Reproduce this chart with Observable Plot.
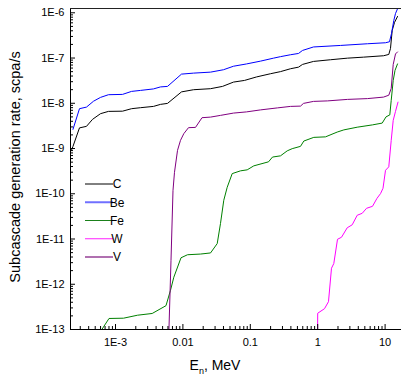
<!DOCTYPE html>
<html><head><meta charset="utf-8">
<script src="https://cdn.jsdelivr.net/npm/d3@7"></script>
<script src="https://cdn.jsdelivr.net/npm/@observablehq/plot@0.6"></script>
<style>
html,body{margin:0;padding:0;background:#fff;}
#chart{position:relative;width:401px;height:380px;overflow:hidden;}
</style></head><body><div id="chart"></div>
<script>
// ---- data (neutron energy in MeV, subcascade generation rate in scpa/s) ----
const energyC = [2.22e-4, 2.34e-4, 2.92e-4, 3.71e-4, 4.56e-4, 5.99e-4, 7.87e-4, 1.27e-3, 1.73e-3, 2.35e-3, 3.66e-3, 4.65e-3, 5.91e-3, 9.53e-3, 1.44e-2, 2.57e-2, 3.87e-2, 5.63e-2, 8.20e-2, 0.1236, 0.1994, 0.2806, 0.395, 0.519, 0.595, 0.866, 1.549, 2.77, 4.78, 9.47, 11.34, 12.02, 12.74, 13.79, 15.28];
const rateC = [9.11e-10, 1.117e-9, 2.86e-9, 3.09e-9, 4.41e-9, 5.89e-9, 6.62e-9, 6.69e-9, 7.59e-9, 7.99e-9, 8.53e-9, 9.45e-9, 9.94e-9, 1.784e-8, 1.995e-8, 2.10e-8, 2.36e-8, 2.94e-8, 3.20e-8, 3.82e-8, 4.50e-8, 5.01e-8, 5.80e-8, 6.29e-8, 7.22e-8, 8.41e-8, 9.17e-8, 9.94e-8, 1.046e-7, 1.123e-7, 1.20e-7, 1.63e-7, 4.07e-7, 6.11e-7, 8.29e-7];

const energyBe = [2.34e-4, 2.92e-4, 3.71e-4, 4.72e-4, 5.99e-4, 7.87e-4, 1.27e-3, 1.73e-3, 2.35e-3, 3.66e-3, 4.65e-3, 5.91e-3, 9.53e-3, 1.44e-2, 2.57e-2, 4.00e-2, 5.63e-2, 8.78e-2, 0.1417, 0.2209, 0.2806, 0.395, 0.519, 0.595, 0.866, 2.18, 5.48, 10.14, 11.62, 12.45, 13.46, 14.27, 15.81];
const rateBe = [2.65e-9, 7.59e-9, 8.23e-9, 1.111e-8, 1.349e-8, 1.547e-8, 1.571e-8, 1.83e-8, 1.925e-8, 2.077e-8, 2.30e-8, 2.36e-8, 4.41e-8, 4.64e-8, 4.88e-8, 5.51e-8, 6.59e-8, 7.40e-8, 8.54e-8, 9.94e-8, 1.073e-7, 1.182e-7, 1.262e-7, 1.471e-7, 1.757e-7, 1.897e-7, 2.068e-7, 2.176e-7, 2.29e-7, 3.49e-7, 6.76e-7, 9.65e-7, 1.377e-6];

const energyFe = [5.99e-4, 8.01e-4, 1.314e-3, 2.12e-3, 3.50e-3, 5.61e-3, 6.55e-3, 7.33e-3, 9.37e-3, 1.170e-2, 1.825e-2, 2.57e-2, 3.23e-2, 3.61e-2, 4.04e-2, 4.54e-2, 5.39e-2, 7.15e-2, 8.99e-2, 0.1127, 0.1862, 0.2135, 0.2806, 0.3528, 0.4184, 0.5556, 0.622, 0.875, 1.305, 1.946, 2.439, 3.856, 6.50, 9.06, 10.31, 11.74, 12.32, 13.19, 14.03, 15.28];
const rateFe = [9e-14, 1.752e-13, 1.778e-13, 2.07e-13, 2.26e-13, 3.36e-13, 7.39e-13, 1.43e-12, 3.85e-12, 4.49e-12, 4.65e-12, 4.92e-12, 7.93e-12, 2.19e-11, 7.17e-11, 1.389e-10, 2.79e-10, 3.21e-10, 3.38e-10, 4.14e-10, 5.08e-10, 6.48e-10, 6.89e-10, 8.88e-10, 9.93e-10, 1.117e-9, 1.462e-9, 1.764e-9, 1.81e-9, 2.31e-9, 2.58e-9, 2.96e-9, 3.33e-9, 3.65e-9, 5.00e-9, 5.54e-9, 1.158e-8, 3.20e-8, 5.32e-8, 7.40e-8];

const energyW = [0.995, 1.0, 1.261, 1.446, 1.602, 1.733, 1.967, 2.255, 2.740, 3.250, 3.856, 4.574, 5.30, 6.50, 7.58, 8.55, 9.31, 10.14, 11.34, 12.32, 13.19, 14.27, 15.54];
const rateW = [8e-14, 2.29e-13, 2.88e-13, 4.12e-13, 2.26e-12, 2.87e-12, 9.87e-12, 1.093e-11, 1.772e-11, 2.06e-11, 3.35e-11, 3.70e-11, 4.77e-11, 5.28e-11, 7.93e-11, 1.008e-10, 1.32e-10, 3.30e-10, 3.94e-10, 1.515e-9, 4.19e-9, 6.62e-9, 1.06e-8];

const energyV = [6.18e-3, 6.66e-3, 7.13e-3, 7.50e-3, 8.32e-3, 9.21e-3, 1.031e-2, 1.211e-2, 1.538e-2, 1.92e-2, 2.57e-2, 3.61e-2, 5.63e-2, 8.78e-2, 0.1417, 0.2533, 0.395, 0.5556, 0.6155, 0.866, 1.398, 2.77, 5.48, 9.47, 11.34, 12.32, 13.19, 14.27, 15.28];
const rateV = [8e-14, 3.40e-12, 1.192e-10, 2.98e-10, 9.11e-10, 1.515e-9, 2.13e-9, 2.89e-9, 2.93e-9, 4.80e-9, 4.95e-9, 5.40e-9, 6.07e-9, 6.45e-9, 7.14e-9, 7.91e-9, 8.53e-9, 8.66e-9, 9.94e-9, 1.10e-8, 1.129e-8, 1.218e-8, 1.269e-8, 1.369e-8, 1.508e-8, 2.13e-8, 7.22e-8, 1.231e-7, 1.363e-7];

const seriesNames = ["C", "Be", "Fe", "W", "V"];
const seriesColors = ["#000000", "#0000ff", "#008000", "#ff00ff", "#800080"];
const legendColors = ["#000000", "#7070ff", "#1a801a", "#ff20ff", "#b070b0"];
const legendWidths = [1, 2, 1, 1, 2];

const xTickValues = [1e-3, 1e-2, 1e-1, 1, 10];
const xTickLabels = ["1E-3", "0.01", "0.1", "1", "10"];
const yTickValues = [1e-13, 1e-12, 1e-11, 1e-10, 1e-9, 1e-8, 1e-7, 1e-6];
const yTickLabels = ["1E-13", "1E-12", "1E-11", "1E-10", "1E-9", "1E-8", "1E-7", "1E-6"];

const xTitleMain = "E", xTitleSub = "n", xTitleRest = ", MeV";
const yTitle = "Subcascade generation rate, scpa/s";

// ---- layout ----
const W = 401, H = 380, mL = 70, mR = 0, mT = 8, mB = 51;
const plotW = W - mL - mR, plotH = H - mT - mB;
const xDomain = [2.149e-4, 17.51], yDomain = [1e-13, 1.244e-6];
const FONT = "'Liberation Sans', Arial, sans-serif";

const energies = [energyC, energyBe, energyFe, energyW, energyV];
const rates = [rateC, rateBe, rateFe, rateW, rateV];
const series = seriesNames.map((name, s) => energies[s].map((E, i) => ({E, R: rates[s][i]})));

function minorTicks(lo, hi) {
  const out = [];
  for (let d = Math.floor(Math.log10(lo)); d <= Math.ceil(Math.log10(hi)); d++)
    for (let k = 2; k <= 9; k++) { const v = k * Math.pow(10, d); if (v > lo && v < hi) out.push(v); }
  return out;
}
const xMinor = minorTicks(xDomain[0], xDomain[1]);
const yMinor = minorTicks(yDomain[0], yDomain[1]);

const svg = Plot.plot({
  width: W, height: H,
  marginLeft: mL, marginRight: mR, marginTop: mT, marginBottom: mB,
  style: {fontFamily: FONT, fontSize: "11px", background: "#fff", color: "#000"},
  x: {type: "log", domain: xDomain, label: null},
  y: {type: "log", domain: yDomain, label: null},
  marks: [
    ...series.map((d, s) => Plot.line(d, {x: "E", y: "R", stroke: seriesColors[s], strokeWidth: 1, clip: true})),
    Plot.tickX(xMinor, {x: d => d, insetTop: plotH - 3, stroke: "#000"}),
    Plot.tickX(xTickValues, {x: d => d, insetTop: plotH - 5, stroke: "#000"}),
    Plot.tickY(yMinor, {y: d => d, insetRight: plotW - 3, stroke: "#000"}),
    Plot.tickY(yTickValues, {y: d => d, insetRight: plotW - 5, stroke: "#000"}),
    Plot.ruleX([xDomain[0]], {stroke: "#000"}),
    Plot.ruleY([yDomain[0]], {stroke: "#000"}),
    Plot.ruleY([yDomain[1]], {stroke: "#222"}),
    Plot.axisX(xTickValues, {tickSize: 0, tickPadding: 9, fontSize: 11, tickFormat: d => xTickLabels[xTickValues.indexOf(d)], label: null}),
    Plot.axisY(yTickValues, {tickSize: 0, tickPadding: 6, fontSize: 11, tickFormat: d => yTickLabels[yTickValues.indexOf(d)], label: null})
  ]
});
document.getElementById("chart").appendChild(svg);

const g = d3.select(svg).append("g").attr("font-family", FONT).attr("fill", "#000");
// y title
g.append("text")
  .attr("transform", "translate(20,167) rotate(-90)")
  .attr("text-anchor", "middle").attr("font-size", 14.5)
  .text(yTitle);
// x title with subscript
const xt = g.append("text").attr("x", 215).attr("y", 370).attr("font-size", 14);
xt.append("tspan").text(xTitleMain);
xt.append("tspan").attr("font-size", 9).attr("dy", 4).text(xTitleSub);
xt.append("tspan").attr("dy", -4).text(xTitleRest);
// legend
const legendY0 = 184, legendStep = 18.25;
seriesNames.forEach((name, s) => {
  const y = legendY0 + s * legendStep;
  g.append("line").attr("x1", 85).attr("x2", 113).attr("y1", y).attr("y2", y)
    .attr("stroke", legendColors[s]).attr("stroke-width", legendWidths[s]);
  g.append("text").attr("x", 117).attr("y", y).attr("dy", "0.36em").attr("font-size", 12).text(name);
});
</script></body></html>
